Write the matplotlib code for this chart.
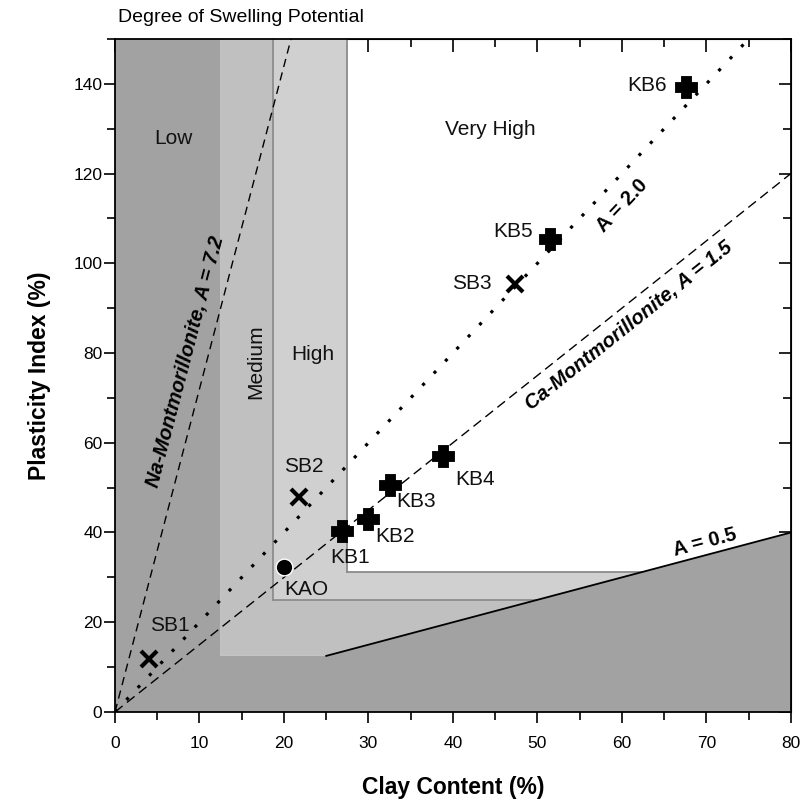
import numpy as np
import matplotlib
matplotlib.use("Agg")
import matplotlib.pyplot as plt
from matplotlib.patches import Polygon

plt.rcParams['font.family'] = ['Liberation Sans', 'DejaVu Sans']

# sample points: clay content (%) and plasticity index (%)
kb_names = ["KB1", "KB2", "KB3", "KB4", "KB5", "KB6"]
kb_clay = [26.9, 30.0, 32.5, 38.8, 51.5, 67.6]
kb_pi = [40.3, 43.0, 50.6, 57.0, 105.4, 139.3]

sb_names = ["SB1", "SB2", "SB3"]
sb_clay = [4.0, 21.8, 47.3]
sb_pi = [11.8, 48.0, 95.3]

kao_clay = [20.0]
kao_pi = [32.2]

# activity lines PI = A * clay
activity = [7.2, 2.0, 1.5, 0.5]

# swelling potential zone boundaries
low_x = 12.5
med_x = 18.75
high_x = 27.5
med_pi = 12.5
high_pi = 25.0
vhigh_pi = 31.25

xmax, ymax = 80, 150

fig = plt.figure(figsize=(8.03, 8.10), dpi=100)
ax = fig.add_axes([0.1432, 0.121, 0.8418, 0.831])
ax.set_xlim(0, xmax)
ax.set_ylim(0, ymax)

# zones
low = Polygon([(0, 0), (0, ymax), (low_x, ymax), (low_x, med_pi),
               (med_pi / 0.5, med_pi), (xmax, 0.5 * xmax), (xmax, 0)],
              closed=True, fc="#a2a2a2", ec="none", zorder=1)
med = Polygon([(low_x, ymax), (low_x, med_pi), (med_pi / 0.5, med_pi),
               (high_pi / 0.5, high_pi), (med_x, high_pi), (med_x, ymax)],
              closed=True, fc="#c0c0c0", ec="none", zorder=1)
high = Polygon([(med_x, ymax), (med_x, high_pi), (high_pi / 0.5, high_pi),
                (vhigh_pi / 0.5, vhigh_pi), (high_x, vhigh_pi), (high_x, ymax)],
               closed=True, fc="#d0d0d0", ec="none", zorder=1)
for p in (low, med, high):
    ax.add_patch(p)
edge = dict(color="#8c8c8c", lw=1.3, zorder=1.5)
ax.plot([med_x, med_x], [ymax, high_pi], **edge)
ax.plot([med_x, high_pi / 0.5], [high_pi, high_pi], **edge)
ax.plot([high_x, high_x], [ymax, vhigh_pi], **edge)
ax.plot([high_x, vhigh_pi / 0.5], [vhigh_pi, vhigh_pi], **edge)

# activity lines
x72 = np.array([0, ymax / activity[0]])
ax.plot(x72, activity[0] * x72, color="k", lw=1, ls=(0, (6, 4)), zorder=2)
x20 = np.array([0, ymax / activity[1]])
ax.plot(x20, activity[1] * x20, color="k", lw=2.3, ls=(0, (1, 4.2)), zorder=2)
x15 = np.array([0, xmax])
ax.plot(x15, activity[2] * x15, color="k", lw=1, ls=(0, (7, 4)), zorder=2)
x05 = np.array([med_pi / 0.5, xmax])
ax.plot(x05, activity[3] * x05, color="k", lw=1.3, zorder=2)

# samples
ax.plot(kb_clay, kb_pi, ls="none", marker="P", ms=13, color="k",
        mec="k", mew=3.5, zorder=4)
ax.plot(sb_clay, sb_pi, ls="none", marker="x", ms=12, color="k",
        mew=3, zorder=4)
ax.plot(kao_clay, kao_pi, ls="none", marker="o", ms=12, color="k",
        mec="white", mew=1, zorder=4)

lab = dict(fontsize=15, color="#111111", ha="center", va="center", zorder=5)
kb_lab = [(27.8, 34.4), (33.1, 39.1), (35.6, 46.9), (42.6, 51.8),
          (47.1, 107.1), (63.0, 139.5)]
for name, (tx, ty) in zip(kb_names, kb_lab):
    ax.text(tx, ty, name, **lab)
sb_lab = [(6.5, 19.2), (22.4, 54.7), (42.2, 95.5)]
for name, (tx, ty) in zip(sb_names, sb_lab):
    ax.text(tx, ty, name, **lab)
ax.text(22.7, 27.2, "KAO", **lab)

# zone names
ax.text(6.9, 127.7, "Low", **lab)
ax.text(16.6, 78.1, "Medium", rotation=90, **lab)
ax.text(23.4, 79.7, "High", **lab)
ax.text(44.4, 129.7, "Very High", **lab)

# line labels
line_lab = dict(fontsize=14.5, fontweight="bold", ha="center", va="center",
                transform_rotates_text=True, rotation_mode="anchor", zorder=5)
ax.text(8.4, 78.1, "Na-Montmorillonite, A = 7.2", style="italic",
        rotation=np.degrees(np.arctan(activity[0])), **line_lab)
ax.text(60.0, 112.9, "A = 2.0",
        rotation=np.degrees(np.arctan(activity[1])), **line_lab)
ax.text(60.8, 86.0, "Ca-Montmorillonite, A = 1.5", style="italic",
        rotation=np.degrees(np.arctan(activity[2])), **line_lab)
ax.text(69.8, 37.8, "A = 0.5",
        rotation=np.degrees(np.arctan(activity[3])), **line_lab)

fig.text(0.147, 0.979, "Degree of Swelling Potential", fontsize=14,
         ha="left", va="center")

# axes styling
for s in ax.spines.values():
    s.set_linewidth(1.3)
    s.set_zorder(6)
ax.set_xticks(np.arange(0, 81, 10))
ax.set_xticks(np.arange(0, 81, 5), minor=True)
ax.set_yticks(np.arange(0, 141, 20))
ax.set_yticks(np.arange(0, 151, 10), minor=True)
ax.tick_params(which="major", direction="out", length=8, width=1.2,
               labelsize=12.5, pad=1)
ax.tick_params(which="minor", direction="out", length=5.5, width=1.2)
ax.tick_params(axis="x", pad=9)

top = ax.secondary_xaxis("top")
top.set_xticks(np.arange(0, 81, 10))
top.set_xticks(np.arange(0, 81, 5), minor=True)
top.tick_params(which="major", direction="in", length=9, width=1.2,
                labeltop=False)
top.tick_params(which="minor", direction="in", length=6, width=1.2)
right = ax.secondary_yaxis("right")
right.set_yticks(np.arange(0, 141, 20))
right.set_yticks(np.arange(0, 151, 10), minor=True)
right.tick_params(which="major", direction="in", length=9, width=1.2,
                  labelright=False)
right.tick_params(which="minor", direction="in", length=6, width=1.2)
for a in (top, right):
    a.set_zorder(0)

ax.set_xlabel("Clay Content (%)", fontsize=16.5, fontweight="bold",
              labelpad=18)
ax.set_ylabel("Plasticity Index (%)", fontsize=16.5, fontweight="bold",
              labelpad=16)

fig.savefig("out.png", dpi=100)
